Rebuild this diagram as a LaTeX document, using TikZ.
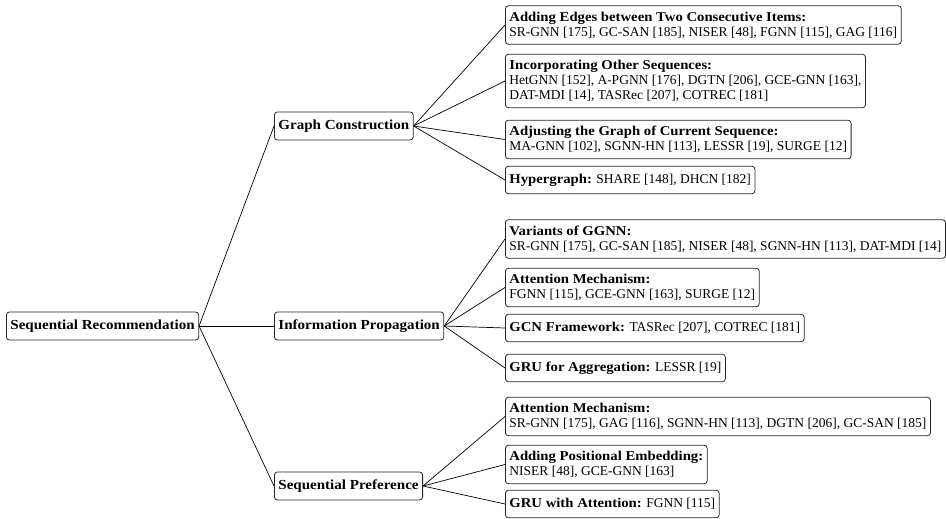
\documentclass[tikz,border=0pt]{standalone}
\usepackage{fontspec}
\setmainfont{Liberation Serif}[BoldFeatures={FakeStretch=1.09}]
\begin{document}
\begin{tikzpicture}[x=1pt,y=-1pt,
  box/.style={draw=black!85,line width=0.8pt,rounded corners=3pt,inner xsep=4pt,inner ysep=6pt,
    font=\fontsize{13.5}{15}\selectfont,align=left},
  midbox/.style={box,font=\fontsize{13.8}{15}\selectfont\bfseries,minimum height=28pt,inner ysep=3pt},
  leaf/.style={box,anchor=west,minimum height=27.5pt},
  conn/.style={draw=black,line width=0.7pt}]
\useasboundingbox (0,0) rectangle (946,519);
\node[midbox,anchor=west] (root) at (6,326) {Sequential Recommendation};
\node[midbox,anchor=west] (gc) at (274,126) {Graph Construction};
\node[midbox,anchor=west] (ip) at (274,326) {Information Propagation};
\node[midbox,anchor=west] (sp) at (274,486) {Sequential Preference};

\node[leaf] (l1) at (505,25) {\textbf{Adding Edges between Two Consecutive Items:}\\SR-GNN [175], GC-SAN [185], NISER [48], FGNN [115], GAG [116]};
\node[leaf] (l2) at (505,81) {\textbf{Incorporating Other Sequences:}\\HetGNN [152], A-PGNN [176], DGTN [206], GCE-GNN [163],\\DAT-MDI [14], TASRec [207], COTREC [181]};
\node[leaf] (l3) at (505,139.5) {\textbf{Adjusting the Graph of Current Sequence:}\\MA-GNN [102], SGNN-HN [113], LESSR [19], SURGE [12]};
\node[leaf] (l4) at (505,180) {\textbf{Hypergraph:} SHARE [148], DHCN [182]};

\node[leaf] (l5) at (505,239) {\textbf{Variants of GGNN:}\\SR-GNN [175], GC-SAN [185], NISER [48], SGNN-HN [113], DAT-MDI [14]};
\node[leaf] (l6) at (505,287.5) {\textbf{Attention Mechanism:}\\FGNN [115], GCE-GNN [163], SURGE [12]};
\node[leaf] (l7) at (505,328) {\textbf{GCN Framework:} TASRec [207], COTREC [181]};
\node[leaf] (l8) at (505,368) {\textbf{GRU for Aggregation:} LESSR [19]};

\node[leaf] (l9) at (505,416.5) {\textbf{Attention Mechanism:}\\SR-GNN [175], GAG [116], SGNN-HN [113], DGTN [206], GC-SAN [185]};
\node[leaf] (l10) at (505,464.5) {\textbf{Adding Positional Embedding:}\\NISER [48], GCE-GNN [163]};
\node[leaf] (l11) at (505,504) {\textbf{GRU with Attention:} FGNN [115]};

\foreach \c in {gc,ip,sp} \draw[conn] (root.east) -- (\c.west);
\foreach \l in {l1,l2,l3,l4} \draw[conn] (gc.east) -- (\l.west);
\foreach \l in {l5,l6,l7,l8} \draw[conn] (ip.east) -- (\l.west);
\foreach \l in {l9,l10,l11} \draw[conn] (sp.east) -- (\l.west);
\end{tikzpicture}
\end{document}
